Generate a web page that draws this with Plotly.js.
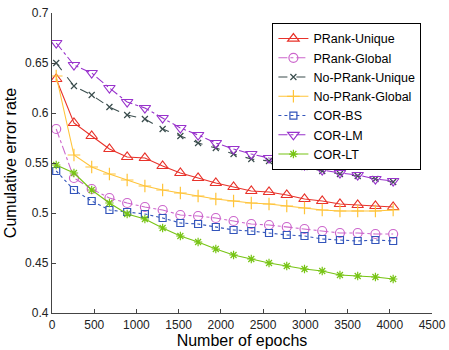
<!DOCTYPE html>
<html>
<head>
<meta charset="utf-8">
<script src="https://cdn.plot.ly/plotly-3.0.1.min.js"></script>
<style>html,body{margin:0;padding:0;background:#fff;}#chart{width:449px;height:350px;}</style>
</head>
<body>
<div id="chart"></div>
<script>
const epochs = [50, 260, 470, 680, 890, 1100, 1310, 1520, 1730, 1940, 2150, 2360, 2570, 2780, 2990, 3200, 3410, 3620, 3830, 4040];
const prankUnique = [0.634, 0.590, 0.577, 0.564, 0.556, 0.555, 0.547, 0.540, 0.535, 0.530, 0.526, 0.522, 0.521, 0.518, 0.514, 0.512, 0.509, 0.508, 0.507, 0.506];
const prankGlobal = [0.584, 0.535, 0.524, 0.515, 0.510, 0.506, 0.503, 0.498, 0.497, 0.495, 0.492, 0.489, 0.488, 0.486, 0.484, 0.482, 0.480, 0.480, 0.479, 0.479];
const noPrankUnique = [0.650, 0.627, 0.618, 0.606, 0.598, 0.594, 0.584, 0.577, 0.570, 0.565, 0.559, 0.554, 0.552, 0.549, 0.546, 0.542, 0.539, 0.537, 0.534, 0.531];
const noPrankGlobal = [0.637, 0.558, 0.546, 0.539, 0.533, 0.527, 0.523, 0.520, 0.517, 0.514, 0.512, 0.510, 0.509, 0.507, 0.505, 0.503, 0.502, 0.502, 0.502, 0.503];
const corBS = [0.542, 0.523, 0.512, 0.503, 0.501, 0.499, 0.495, 0.490, 0.489, 0.486, 0.483, 0.482, 0.480, 0.478, 0.477, 0.474, 0.473, 0.472, 0.473, 0.472];
const corLM = [0.670, 0.648, 0.640, 0.625, 0.611, 0.605, 0.595, 0.585, 0.578, 0.570, 0.564, 0.559, 0.555, 0.553, 0.548, 0.543, 0.540, 0.538, 0.534, 0.532];
const corLT = [0.548, 0.540, 0.523, 0.510, 0.499, 0.494, 0.485, 0.477, 0.471, 0.464, 0.458, 0.454, 0.450, 0.447, 0.444, 0.442, 0.438, 0.437, 0.436, 0.434];
const seriesNames = ["PRank-Unique", "PRank-Global", "No-PRank-Unique", "No-PRank-Global", "COR-BS", "COR-LM", "COR-LT"];
const seriesData = [prankUnique, prankGlobal, noPrankUnique, noPrankGlobal, corBS, corLM, corLT];
const styles = [
  {color: "#e8322a", dash: "solid", symbol: "triangle-up-open", size: 10},
  {color: "#cc66cc", dash: "dashdot", symbol: "circle-open", size: 9},
  {color: "#3a4d4d", dash: "dash", symbol: "x-thin-open", size: 6},
  {color: "#ffc43a", dash: "solid", symbol: "cross-thin-open", size: 9},
  {color: "#3355bb", dash: "dot", symbol: "square-open", size: 7},
  {color: "#9933cc", dash: "dashdot", symbol: "triangle-down-open", size: 10},
  {color: "#77c414", dash: "solid", symbol: "asterisk-open", size: 7}
];
const traces = seriesNames.map((n, i) => ({
  x: epochs, y: seriesData[i], name: n, type: "scatter", mode: "lines+markers",
  line: {color: styles[i].color, dash: styles[i].dash, width: 1.1},
  marker: {symbol: styles[i].symbol, size: styles[i].size, color: styles[i].color, line: {color: styles[i].color, width: 1.2}}
}));
const layout = {
  width: 449, height: 350,
  margin: {l: 52, r: 17, t: 13, b: 37},
  paper_bgcolor: "#fff", plot_bgcolor: "#fff",
  font: {family: "Liberation Sans, Arial, sans-serif", size: 12, color: "#222"},
  showlegend: true,
  legend: {x: 0.58, y: 0.967, xanchor: "left", yanchor: "top", bordercolor: "#000", borderwidth: 1, bgcolor: "#fff",
           font: {size: 12.5, color: "#000"}, tracegroupgap: 0, itemwidth: 30},
  xaxis: {range: [0, 4500], tickmode: "array", tickvals: [0,500,1000,1500,2000,2500,3000,3500,4000,4500],
          showgrid: false, zeroline: false, showline: true, linecolor: "#444", linewidth: 1.2,
          ticks: "inside", ticklen: 4, tickcolor: "#444",
          title: {text: "Number of epochs", font: {size: 16, color: "#000"}, standoff: 3}},
  yaxis: {range: [0.4, 0.7], tickmode: "array", tickvals: [0.4,0.45,0.5,0.55,0.6,0.65,0.7],
          ticktext: ["0.4","0.45","0.5","0.55","0.6","0.65","0.7"],
          showgrid: false, zeroline: false, showline: true, linecolor: "#444", linewidth: 1.2,
          ticks: "inside", ticklen: 4, tickcolor: "#444",
          title: {text: "Cumulative error rate", font: {size: 16, color: "#000"}, standoff: 4}}
};
Plotly.newPlot("chart", traces, layout, {displayModeBar: false, staticPlot: true});
</script>
</body>
</html>
